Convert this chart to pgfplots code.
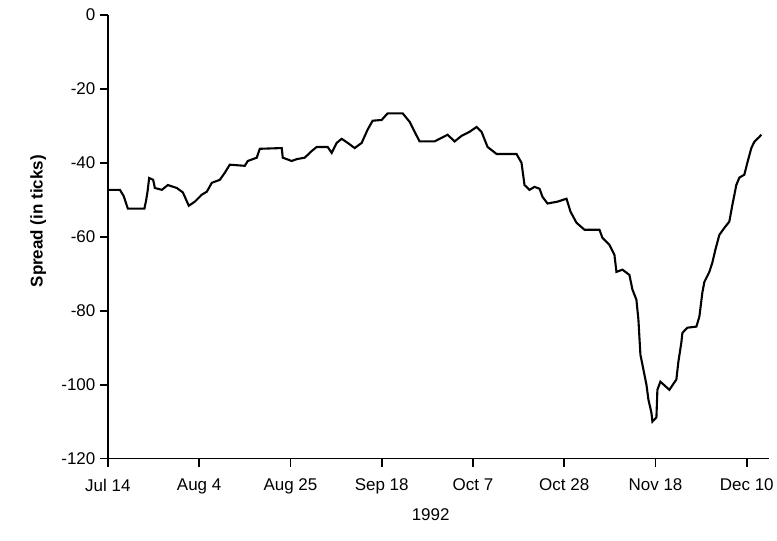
\documentclass[border=0pt]{standalone}
\usepackage{fontspec}
\setmainfont{Liberation Sans}
\usepackage{pgfplots}
\pgfplotsset{compat=1.18}

\begin{document}
\begin{tikzpicture}
\begin{axis}[
  scale only axis, width=662pt, height=444pt,
  xmin=0, xmax=108.7, ymin=-120, ymax=0,
  enlargelimits=false,
  axis lines=left,
  axis line style={-, line width=1.8pt, black},
  tick align=outside, major tick length=8pt,
  tick style={line width=1.8pt, black},
  xtick={0,15,30,45,60,75,90,105},
  xticklabels={Jul 14, Aug 4, Aug 25, Sep 18, Oct 7, Oct 28, Nov 18, Dec 10},
  ytick={-120,-100,-80,-60,-40,-20,0},
  yticklabels={-120,-100,-80,-60,-40,-20,0},
  ticklabel style={font=\fontsize{17}{20}\selectfont},
  xticklabel style={yshift=-9pt},
  yticklabel style={xshift=-1pt},
  xlabel={1992},
  ylabel={Spread (in ticks)},
  xlabel style={font=\fontsize{17}{20}\selectfont, at={(axis description cs:0.488,0)}, anchor=center, yshift=-56pt},
  ylabel style={font=\fontsize{17}{20}\selectfont\bfseries, at={(axis description cs:-0.088,0.535)}, anchor=south},
  clip=false,
]
\addplot[black, line width=2.1pt] coordinates {
(0,-47.3) (1.97,-47.3) (2.6,-49) (3.28,-52.4) (6.0,-52.4) (6.3,-50) (6.52,-47.7) (6.78,-44.1)
(7.44,-44.6) (7.72,-46.8) (8.87,-47.3) (9.85,-46) (11.33,-46.8) (12.32,-48) (13.3,-51.6)
(14.29,-50.5) (15.44,-48.6) (16.26,-47.8) (17.08,-45.4) (18.39,-44.6) (19.21,-42.7) (20.03,-40.5)
(22.5,-40.8) (22.99,-39.5) (24.47,-38.6) (24.96,-36.2) (28.57,-36) (28.74,-38.6) (30.21,-39.5)
(31.03,-39) (32.35,-38.6) (33.5,-36.8) (34.32,-35.7) (36.12,-35.7) (36.78,-37.3) (37.6,-34.6)
(38.42,-33.5) (39.41,-34.6) (40.56,-36) (41.71,-34.6) (42.69,-31) (43.51,-28.6) (44.99,-28.4)
(45.98,-26.6) (48.44,-26.6) (49.59,-28.9) (50.41,-31.6) (51.23,-34.2) (53.69,-34.2) (54.52,-33.5)
(55.83,-32.4) (56.98,-34.2) (58.13,-32.7) (59.44,-31.6) (60.59,-30.3) (61.41,-31.6) (62.4,-35.7)
(63.88,-37.6) (67.16,-37.6) (67.98,-40) (68.47,-46) (69.29,-47.3) (70.11,-46.5) (70.94,-47)
(71.43,-49.2) (72.25,-51) (73.89,-50.5) (75.37,-49.7) (76.03,-53.2) (77.01,-56.2) (78.33,-58.1)
(80.79,-58.1) (81.28,-60.3) (82.43,-62.2) (83.25,-64.9) (83.58,-69.5) (84.56,-68.9) (85.71,-70.3)
(86.21,-74.3) (86.86,-77) (87.19,-82.4) (87.52,-91.9) (88.01,-95.9) (88.51,-100) (88.83,-104)
(89.33,-107.6) (89.49,-110) (90.15,-108.9) (90.31,-101.4) (90.8,-99.2) (92.28,-101.4) (93.43,-98.6)
(93.76,-93.8) (94.25,-88.6) (94.42,-86) (95.24,-84.6) (96.72,-84.3) (97.21,-81.6) (97.7,-75.1)
(98.03,-72.2) (98.85,-69.5) (99.34,-67) (99.84,-63.5) (100.49,-59.5) (101.31,-57.6) (102.13,-55.9)
(102.63,-51.4) (103.28,-46) (103.78,-44) (104.6,-43.2) (105.09,-40) (105.75,-36) (106.24,-34.3)
(107.06,-33) (107.4,-32.4)
};
\end{axis}
\path ([xshift=-108pt,yshift=-82pt]current axis.south west) rectangle ([xshift=7pt,yshift=15pt]current axis.north east);
\end{tikzpicture}
\end{document}
